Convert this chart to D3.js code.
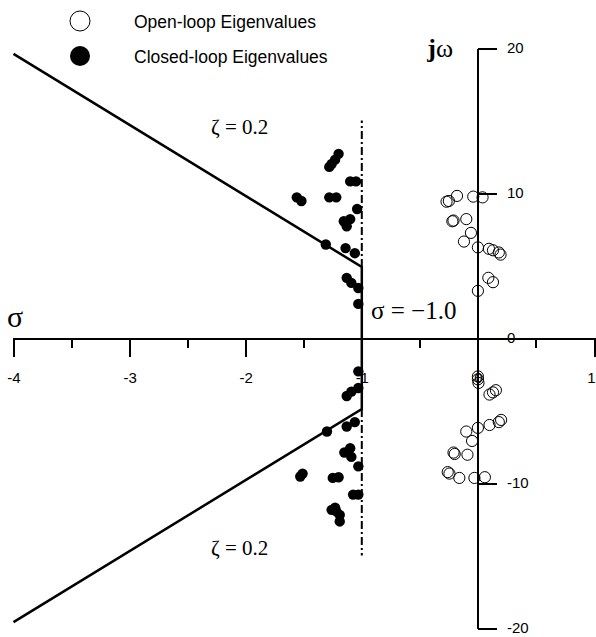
<!DOCTYPE html>
<meta charset="utf-8">
<head>
  <script src="https://cdn.jsdelivr.net/npm/d3@7"></script>
  <style>
    body { margin: 0; background: #fff; }
    .axis path, .axis line { fill: none; stroke: #000; stroke-width: 2; shape-rendering: crispEdges; }
    .axis text { font: 15px "Liberation Sans", Arial, sans-serif; fill: #000; }
    .serif { font-family: "Liberation Serif", "Times New Roman", serif; fill: #000; }
    .legend { font: 17.5px "Liberation Sans", Arial, sans-serif; fill: #000; }
  </style>
</head>
<body>
<script>

var openRe = [-0.27, -0.25, -0.18, -0.04, 0.04, -0.22, -0.21, -0.10, -0.06, -0.12, 0.0, 0.095, 0.13, 0.18, 0.195, 0.09, 0.13, 0.0,
              0.0, 0.0, 0.005, 0.10, 0.13, 0.155, -0.10, 0.0, 0.10, 0.18, 0.20, -0.05, -0.21, -0.20, -0.09, -0.26, -0.245, -0.16, -0.03, 0.06];
var openIm = [9.4, 9.45, 9.8, 9.75, 9.7, 8.05, 8.1, 8.2, 7.25, 6.65, 6.25, 6.15, 6.05, 5.9, 5.75, 4.15, 3.85, 3.25,
              -2.65, -2.85, -3.1, -3.9, -3.75, -3.6, -6.45, -6.2, -6.0, -5.8, -5.65, -7.1, -7.9, -8.0, -8.05, -9.25, -9.35, -9.65, -9.65, -9.6];

var closedRe = [-1.20, -1.23, -1.26, -1.28, -1.10, -1.05, -1.56, -1.52, -1.28, -1.22, -1.04, -1.10, -1.155, -1.13, -1.31, -1.14, -1.06, -1.13, -1.09, -1.03, -1.03,
                -1.03, -1.03, -1.09, -1.13, -1.30, -1.13, -1.06, -1.10, -1.15, -1.09, -1.03, -1.53, -1.51, -1.25, -1.20, -1.075, -1.03, -1.26, -1.22, -1.19, -1.19, -1.23];
var closedIm = [12.7, 12.3, 12.0, 11.8, 10.8, 10.8, 9.7, 9.45, 9.7, 9.7, 8.9, 8.2, 8.05, 7.7, 6.45, 6.2, 5.85, 4.15, 3.8, 3.45, 2.35,
                -2.3, -3.45, -3.7, -4.0, -6.45, -6.1, -5.8, -7.6, -7.9, -8.2, -8.85, -9.55, -9.35, -9.65, -9.6, -10.8, -10.8, -11.85, -11.95, -12.2, -12.65, -11.7];

var xTicks = [-4, -3, -2, -1, 0, 1];
var xMinor = [-3.5, -2.5, -1.5, -0.5, 0.5];
var yTicks = [20, 10, 0, -10, -20];

var zeta = 0.2;        // damping line
var sigmaMin = -1.0;   // stability margin line
var dashTop = 15;      // extent of the dash-dot part

var w = 596, h = 637;

var xScale = d3.scaleLinear().domain([-4, 1]).range([13.5, 594]);
var yScale = d3.scaleLinear().domain([-20, 20]).range([628, 48]);

var svg = d3.select("body").append("svg")
  .attr("width", w)
  .attr("height", h);

// plain hyphen like the original
var fmt = function(d) { return String(d); };

// x axis (sigma)
var gx = svg.append("g")
  .attr("class", "axis")
  .attr("transform", "translate(0," + yScale(0) + ")")
  .call(d3.axisBottom(xScale).tickValues(xTicks).tickSize(19).tickSizeOuter(0).tickPadding(15)
    .tickFormat(fmt));
gx.selectAll(".tick text").filter(function(d) { return d === 1; }).attr("x", -3);

svg.append("g")
  .attr("class", "axis")
  .attr("transform", "translate(0," + yScale(0) + ")")
  .call(d3.axisBottom(xScale).tickValues(xMinor).tickSize(10).tickSizeOuter(0).tickFormat(""))
  .select(".domain").remove();

// y axis (j omega)
svg.append("g")
  .attr("class", "axis")
  .attr("transform", "translate(" + xScale(0) + ",0)")
  .call(d3.axisRight(yScale).tickValues(yTicks).tickSize(19).tickSizeOuter(0).tickPadding(10)
    .tickFormat(fmt));

// zeta = 0.2 lines: omega = -sigma * tan(acos(zeta))
var k = Math.tan(Math.acos(zeta));
var line = d3.line().x(function(d) { return xScale(d[0]); }).y(function(d) { return yScale(d[1]); });

svg.append("path")
  .attr("d", line([[-4, 4 * k], [sigmaMin, -sigmaMin * k], [sigmaMin, sigmaMin * k], [-4, -4 * k]]))
  .attr("fill", "none")
  .attr("stroke", "#000")
  .attr("stroke-width", 2.5);

// dash-dot sigma = -1 line outside the cone
[[-sigmaMin * k, dashTop], [sigmaMin * k, -dashTop]].forEach(function(seg) {
  svg.append("path")
    .attr("d", line([[sigmaMin, seg[0]], [sigmaMin, seg[1]]]))
    .attr("stroke", "#000")
    .attr("stroke-width", 2)
    .attr("stroke-dasharray", "8,3,2,3");
});

// closed-loop eigenvalues
svg.selectAll("circle.closed")
  .data(d3.range(closedRe.length))
  .enter().append("circle")
  .attr("class", "closed")
  .attr("cx", function(i) { return xScale(closedRe[i]); })
  .attr("cy", function(i) { return yScale(closedIm[i]); })
  .attr("r", 5.2)
  .attr("fill", "#000");

// open-loop eigenvalues
svg.selectAll("circle.open")
  .data(d3.range(openRe.length))
  .enter().append("circle")
  .attr("class", "open")
  .attr("cx", function(i) { return xScale(openRe[i]); })
  .attr("cy", function(i) { return yScale(openIm[i]); })
  .attr("r", 5.6)
  .attr("fill", "none")
  .attr("stroke", "#000")
  .attr("stroke-width", 1);

// labels
svg.append("text").attr("class", "serif")
  .attr("x", 7).attr("y", 327)
  .attr("font-size", 30)
  .text("σ");

var jw = svg.append("text").attr("class", "serif")
  .attr("x", 453).attr("y", 57)
  .attr("text-anchor", "end")
  .attr("font-size", 26);
jw.append("tspan").attr("font-weight", "bold").text("j");
jw.append("tspan").text("ω");

svg.append("text").attr("class", "serif")
  .attr("x", 371).attr("y", 319)
  .attr("font-size", 25)
  .text("σ = −1.0");

svg.append("text").attr("class", "serif")
  .attr("x", 211).attr("y", 134)
  .attr("font-size", 21)
  .text("ζ = 0.2");

svg.append("text").attr("class", "serif")
  .attr("x", 211).attr("y", 555)
  .attr("font-size", 21)
  .text("ζ = 0.2");

// legend
svg.append("circle").attr("cx", 80).attr("cy", 21).attr("r", 10)
  .attr("fill", "none").attr("stroke", "#000").attr("stroke-width", 1);
svg.append("text").attr("class", "legend").attr("x", 134).attr("y", 28).text("Open-loop Eigenvalues");

svg.append("circle").attr("cx", 80).attr("cy", 56).attr("r", 10).attr("fill", "#000");
svg.append("text").attr("class", "legend").attr("x", 134).attr("y", 63).text("Closed-loop Eigenvalues");

</script>
</body>
